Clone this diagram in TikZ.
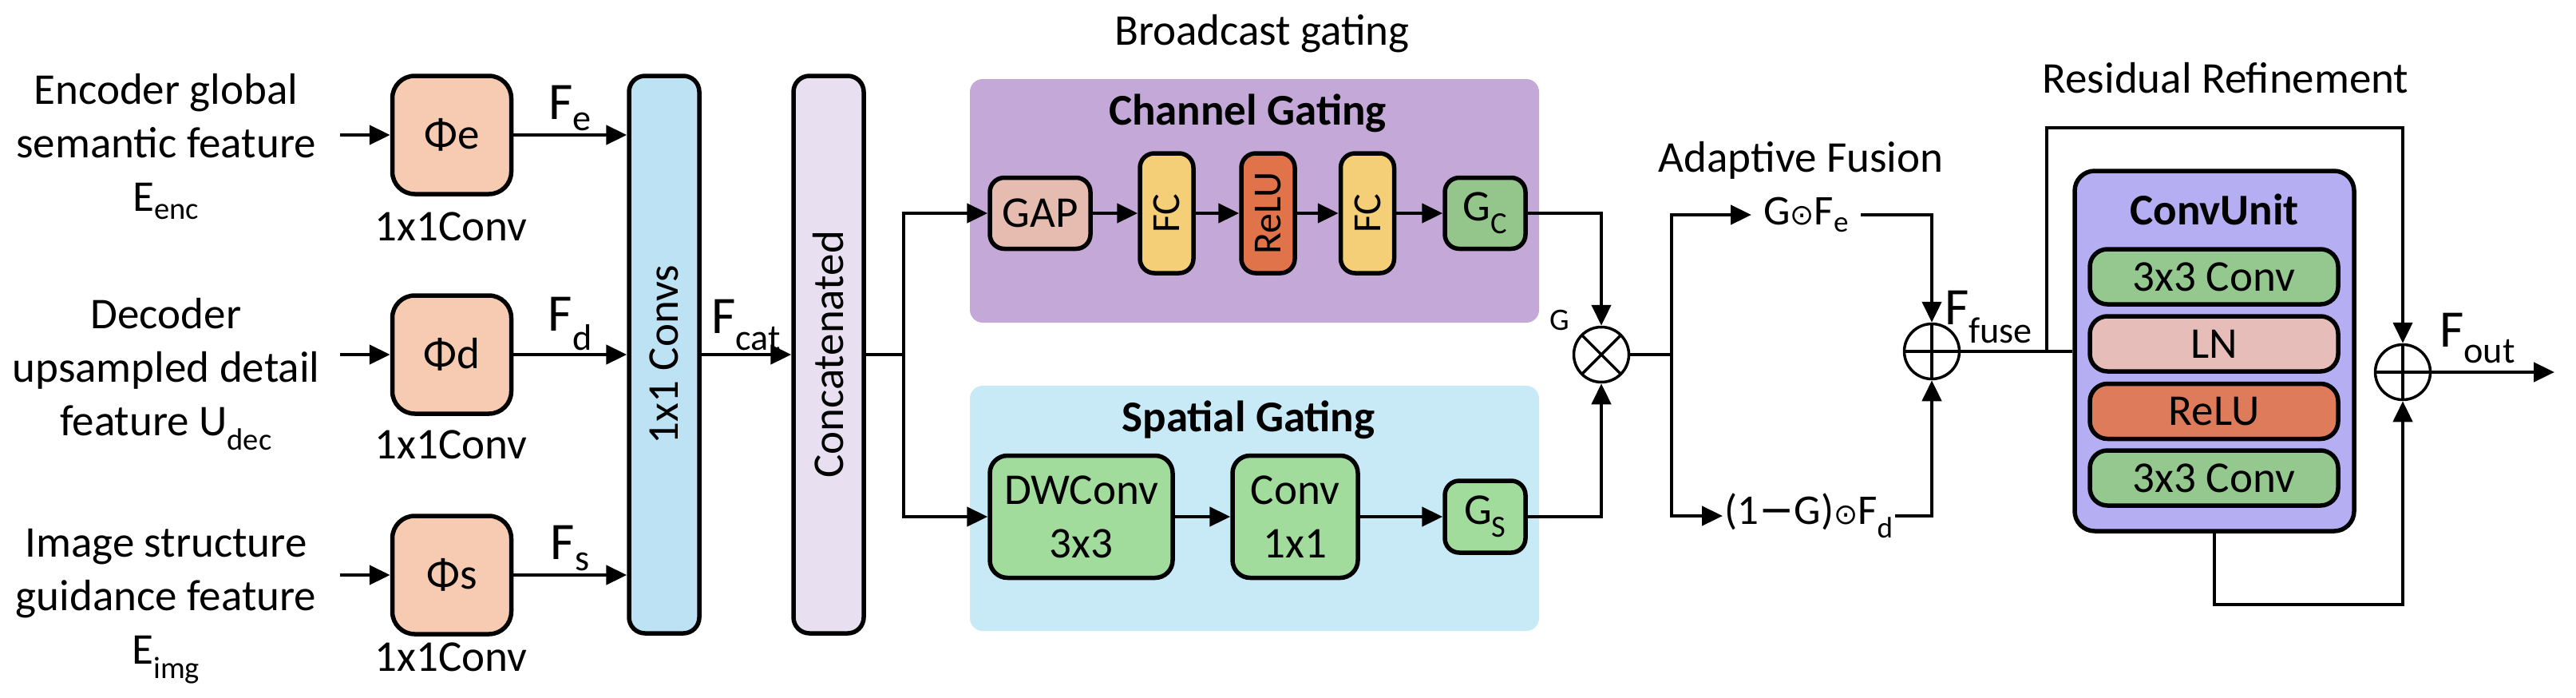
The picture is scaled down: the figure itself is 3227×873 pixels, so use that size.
\documentclass[tikz,border=0pt]{standalone}
\usepackage{fontspec}
\setmainfont{Carlito}
\newfontfamily\symb{DejaVu Sans}
\usepackage{graphicx}
\usetikzlibrary{arrows.meta}
\definecolor{peche}{HTML}{F7CBB2}
\definecolor{bleuconv}{HTML}{BDE2F4}
\definecolor{lilas}{HTML}{E8DFF0}
\definecolor{violetfond}{HTML}{C4A9D8}
\definecolor{cielfond}{HTML}{C8EAF7}
\definecolor{rosegap}{HTML}{E6BCB1}
\definecolor{jaunefc}{HTML}{F5CF78}
\definecolor{orangerelu}{HTML}{E07349}
\definecolor{vertgc}{HTML}{94C58B}
\definecolor{vertsp}{HTML}{A1DC9D}
\definecolor{lavande}{HTML}{B5AEF2}
\definecolor{vertcu}{HTML}{95C88F}
\definecolor{roseln}{HTML}{E6BDB8}
\definecolor{orangecu}{HTML}{DE7B5A}
\begin{document}
\begin{tikzpicture}[x=1pt,y=-1pt]
	% Styles
	\tikzstyle{fleche}=[->,>={Triangle[length=26pt,width=24pt]},line width=4.5pt]
	\tikzstyle{trait}=[-,line width=4.5pt]
	\tikzstyle{texte}=[inner sep=0pt,align=center,font=\fontsize{55}{67}\selectfont]
	\tikzstyle{titre}=[texte,font=\fontsize{55}{67}\selectfont\bfseries]
	\tikzstyle{bloc}=[texte,draw,line width=5.5pt,rounded corners=20pt]
	\tikzstyle{petit}=[font=\fontsize{50}{60}\selectfont]
	\tikzstyle{cadre}=[inner sep=0pt,rounded corners=16pt]
	\tikzstyle{operateur}=[circle,draw,line width=3.5pt,fill=white,minimum size=69pt,inner sep=0pt]
	\tikzstyle{produit}=[operateur,path picture={\draw[line width=3.5pt]
		(path picture bounding box.north west)--(path picture bounding box.south east)
		(path picture bounding box.north east)--(path picture bounding box.south west);}]
	\tikzstyle{somme}=[operateur,path picture={\draw[line width=3.5pt]
		(path picture bounding box.north)--(path picture bounding box.south)
		(path picture bounding box.east)--(path picture bounding box.west);}]
	\tikzstyle{etiquette}=[midway,above,inner sep=3pt,font=\fontsize{66}{66}\selectfont]
	\tikzstyle{grand}=[texte,anchor=base west,font=\fontsize{66}{66}\selectfont]
	\def\pt{{\symb\fontsize{36}{36}\selectfont ⊙}}
	% Dimensions
	\def\LigneE{169}
	\def\LigneD{444}
	\def\LigneS{720}
	\def\LigneC{267}
	\def\LigneP{647}
	\useasboundingbox (0,0) rectangle (3227,873);
	% Noeuds : entrees
	\node[texte,anchor=north] (enc) at (208,92) {Encoder global\\semantic feature\\E\textsubscript{enc}};
	\node[texte,anchor=north] (dec) at (208,373) {Decoder\\upsampled detail\\feature U\textsubscript{dec}};
	\node[texte,anchor=north] (img) at (208,662) {Image structure\\guidance feature\\E\textsubscript{img}};
	\coordinate (ee) at (426,\LigneE);
	\coordinate (ed) at (426,\LigneD);
	\coordinate (es) at (426,\LigneS);
	\node[bloc,fill=peche,minimum width=149pt,minimum height=148pt,rounded corners=28pt] (phie) at (566,\LigneE) {Φe};
	\node[bloc,fill=peche,minimum width=149pt,minimum height=148pt,rounded corners=28pt] (phid) at (566,\LigneD) {Φd};
	\node[bloc,fill=peche,minimum width=149pt,minimum height=148pt,rounded corners=28pt] (phis) at (566,\LigneS) {Φs};
	\node[texte] (ce) at (565,284) {1x1Conv};
	\node[texte] (cd) at (565,557) {1x1Conv};
	\node[texte] (cs) at (565,823) {1x1Conv};
	\node[bloc,fill=bleuconv,minimum width=88pt,minimum height=698pt] (convs) at (832,444) {\rotatebox{90}{1x1 Convs}};
	\node[bloc,fill=lilas,minimum width=88pt,minimum height=698pt] (concat) at (1038,444) {\rotatebox{90}{Concatenated}};
	\coordinate (bif1) at (1132,444);
	% Noeuds : gating
	\node[texte] (tbroad) at (1581,42) {Broadcast gating};
	\node[cadre,fill=violetfond,minimum width=713pt,minimum height=305pt] (canal) at (1571.5,251.5) {};
	\node[cadre,fill=cielfond,minimum width=713pt,minimum height=307pt] (spatial) at (1571.5,636.5) {};
	\node[titre] (tcanal) at (1563,142) {Channel Gating};
	\node[titre] (tspatial) at (1564,526) {Spatial Gating};
	\node[bloc,fill=rosegap,minimum width=126pt,minimum height=89pt,rounded corners=18pt] (gap) at (1303,\LigneC) {GAP};
	\node[bloc,petit,fill=jaunefc,minimum width=67pt,minimum height=150pt,rounded corners=18pt] (fca) at (1461.5,\LigneC) {\rotatebox{90}{FC}};
	\node[bloc,petit,fill=orangerelu,minimum width=67pt,minimum height=150pt,rounded corners=18pt] (relua) at (1588.5,\LigneC) {\rotatebox{90}{ReLU}};
	\node[bloc,petit,fill=jaunefc,minimum width=67pt,minimum height=150pt,rounded corners=18pt] (fcb) at (1713,\LigneC) {\rotatebox{90}{FC}};
	\node[bloc,fill=vertgc,minimum width=101pt,minimum height=89pt,rounded corners=18pt] (gc) at (1860.5,\LigneC) {G\textsubscript{C}};
	\node[bloc,fill=vertsp,minimum width=229pt,minimum height=153pt,rounded corners=22pt] (dw) at (1354.5,\LigneP) {DWConv\\3x3};
	\node[bloc,fill=vertsp,minimum width=157pt,minimum height=153pt,rounded corners=22pt] (pw) at (1622.5,\LigneP) {Conv\\1x1};
	\node[bloc,fill=vertsp,minimum width=101pt,minimum height=90pt,rounded corners=18pt] (gs) at (1860.5,\LigneP) {G\textsubscript{S}};
	% Noeuds : fusion
	\node[produit] (mul) at (2006,444) {};
	\node[texte,font=\fontsize{39}{39}\selectfont] (lg) at (1954,401) {G};
	\coordinate (bif2) at (2094,444);
	\node[texte] (tfusion) at (2256,201) {Adaptive Fusion};
	\node[texte,anchor=west,inner xsep=15pt,font=\fontsize{53}{53}\selectfont] (gfe) at (2194,269) {G\pt F\textsubscript{e}};
	\node[texte,anchor=west,inner xsep=2pt,font=\fontsize{53}{53}\selectfont] (gfd) at (2158,646) {(1{\symb −}G)\pt F\textsubscript{d}};
	\node[somme] (add) at (2420,440) {};
	\node[grand] (ffuse) at (2436,406) {F\textsubscript{fuse}};
	% Noeuds : raffinement
	\node[texte] (tres) at (2788,98) {Residual Refinement};
	\node[bloc,fill=lavande,minimum width=350pt,minimum height=451pt,rounded corners=25pt] (cu) at (2774,439.5) {};
	\node[titre] (tcu) at (2774,262) {ConvUnit};
	\node[bloc,fill=vertcu,minimum width=311pt,minimum height=69pt,rounded corners=22pt] (cua) at (2773.5,346.5) {3x3 Conv};
	\node[bloc,fill=roseln,minimum width=311pt,minimum height=69pt,rounded corners=22pt] (cub) at (2773.5,430.5) {LN};
	\node[bloc,fill=orangecu,minimum width=311pt,minimum height=69pt,rounded corners=22pt] (cuc) at (2773.5,515) {ReLU};
	\node[bloc,fill=vertcu,minimum width=311pt,minimum height=69pt,rounded corners=22pt] (cud) at (2773.5,598.5) {3x3 Conv};
	\node[somme] (addb) at (3010,466) {};
	\coordinate (bif3) at (2564,440);
	\coordinate (haut) at (2564,160);
	\coordinate (bas) at (2774,757);
	\coordinate (sortie) at (3200,466);
	\node[grand] (fout) at (3056,434) {F\textsubscript{out}};
	% Arcs
	\draw[fleche] (ee)--(phie);
	\draw[fleche] (ed)--(phid);
	\draw[fleche] (es)--(phis);
	\draw[fleche] (phie)--(phie-|convs.west) node[etiquette] {F\textsubscript{e}};
	\draw[fleche] (phid)--(phid-|convs.west) node[etiquette] {F\textsubscript{d}};
	\draw[fleche] (phis)--(phis-|convs.west) node[etiquette] {F\textsubscript{s}};
	\draw[fleche] (convs)--(concat) node[etiquette] {F\textsubscript{cat}};
	\draw[trait] (concat.east)--(bif1);
	\draw[fleche] (bif1)|-(gap.west);
	\draw[fleche] (bif1)|-(dw.west);
	\draw[fleche] (gap)--(fca);
	\draw[fleche] (fca)--(relua);
	\draw[fleche] (relua)--(fcb);
	\draw[fleche] (fcb)--(gc);
	\draw[fleche] (dw)--(pw);
	\draw[fleche] (pw)--(gs);
	\draw[fleche] (gc.east)-|(mul.north);
	\draw[fleche] (gs.east)-|(mul.south);
	\draw[trait] (mul.east)--(bif2);
	\draw[fleche] (bif2)|-(gfe.west);
	\draw[fleche] (bif2)|-(gfd.west);
	\draw[fleche] (gfe.east)-|(add.north);
	\draw[fleche] (gfd.east)-|(add.south);
	\draw[trait] (add.east)--(add.east-|cu.west);
	\draw[fleche] (bif3)--(haut)-|(addb.north);
	\draw[fleche] (cu.south)--(bas)-|(addb.south);
	\draw[fleche] (addb.east)--(sortie);
\end{tikzpicture}
\end{document}
